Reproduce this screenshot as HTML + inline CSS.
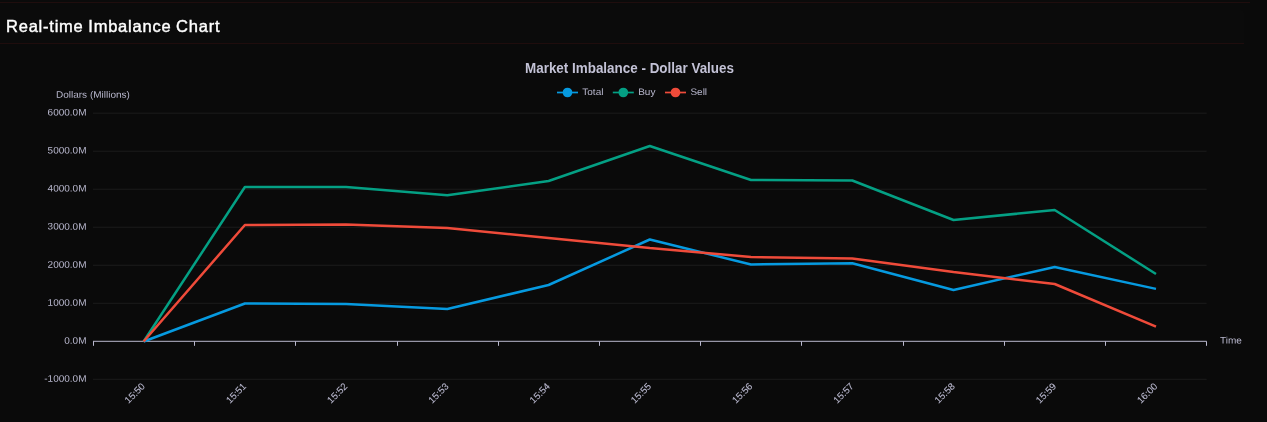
<!DOCTYPE html>
<html lang="en"><head><meta charset="utf-8"><title>Real-time Imbalance Chart</title>
<style>
html,body{margin:0;padding:0;background:#0a0a0a;}
body{width:1267px;height:422px;overflow:hidden;position:relative;font-family:"Liberation Sans",Arial,sans-serif;}
.hdr{position:absolute;left:0;top:0;width:1250px;height:44px;}
.l1{position:absolute;left:0;top:2px;width:1250px;height:1px;background:#1f0d0d;}
.l2{position:absolute;left:0;top:43px;width:1244px;height:1px;background:#1f0d0d;}
.hbox{position:absolute;left:0;top:10px;width:1244px;height:33px;background:#0b0b0b;border-top-right-radius:3px;}
h2{position:absolute;left:6px;top:16px;margin:0;font-size:16.5px;line-height:20px;font-weight:400;color:#fff;letter-spacing:0.77px;word-spacing:-0.6px;-webkit-text-stroke:0.42px #fff;white-space:nowrap;}
svg{position:absolute;left:0;top:0;}
svg text{font-family:"Liberation Sans",Arial,sans-serif;}
</style></head><body>
<div class="l1"></div><div class="hbox"></div><div class="l2"></div>
<h2>Real-time Imbalance Chart</h2>
<svg width="1267" height="422" viewBox="0 0 1267 422">
<line x1="93.0" y1="113.18" x2="1206.6" y2="113.18" stroke="#1c1c1c" stroke-width="1"/>
<line x1="93.0" y1="151.20" x2="1206.6" y2="151.20" stroke="#1c1c1c" stroke-width="1"/>
<line x1="93.0" y1="189.22" x2="1206.6" y2="189.22" stroke="#1c1c1c" stroke-width="1"/>
<line x1="93.0" y1="227.24" x2="1206.6" y2="227.24" stroke="#1c1c1c" stroke-width="1"/>
<line x1="93.0" y1="265.26" x2="1206.6" y2="265.26" stroke="#1c1c1c" stroke-width="1"/>
<line x1="93.0" y1="303.28" x2="1206.6" y2="303.28" stroke="#1c1c1c" stroke-width="1"/>
<line x1="93.0" y1="379.32" x2="1206.6" y2="379.32" stroke="#1c1c1c" stroke-width="1"/>
<line x1="93.0" y1="341.3" x2="1206.6" y2="341.3" stroke="#b9b8ce" stroke-width="1"/>
<line x1="93.5" y1="341.3" x2="93.5" y2="345.8" stroke="#b9b8ce" stroke-width="1"/>
<line x1="194.5" y1="341.3" x2="194.5" y2="345.8" stroke="#b9b8ce" stroke-width="1"/>
<line x1="295.5" y1="341.3" x2="295.5" y2="345.8" stroke="#b9b8ce" stroke-width="1"/>
<line x1="397.5" y1="341.3" x2="397.5" y2="345.8" stroke="#b9b8ce" stroke-width="1"/>
<line x1="498.5" y1="341.3" x2="498.5" y2="345.8" stroke="#b9b8ce" stroke-width="1"/>
<line x1="599.5" y1="341.3" x2="599.5" y2="345.8" stroke="#b9b8ce" stroke-width="1"/>
<line x1="700.5" y1="341.3" x2="700.5" y2="345.8" stroke="#b9b8ce" stroke-width="1"/>
<line x1="801.5" y1="341.3" x2="801.5" y2="345.8" stroke="#b9b8ce" stroke-width="1"/>
<line x1="903.5" y1="341.3" x2="903.5" y2="345.8" stroke="#b9b8ce" stroke-width="1"/>
<line x1="1004.5" y1="341.3" x2="1004.5" y2="345.8" stroke="#b9b8ce" stroke-width="1"/>
<line x1="1105.5" y1="341.3" x2="1105.5" y2="345.8" stroke="#b9b8ce" stroke-width="1"/>
<line x1="1206.5" y1="341.3" x2="1206.5" y2="345.8" stroke="#b9b8ce" stroke-width="1"/>
<text transform="translate(86.5,115.58) rotate(0.03) scale(1.053,1)" text-anchor="end" font-size="9.5" fill="#b9b8ce">6000.0M</text>
<text transform="translate(86.5,153.60) rotate(0.03) scale(1.053,1)" text-anchor="end" font-size="9.5" fill="#b9b8ce">5000.0M</text>
<text transform="translate(86.5,191.62) rotate(0.03) scale(1.053,1)" text-anchor="end" font-size="9.5" fill="#b9b8ce">4000.0M</text>
<text transform="translate(86.5,229.64) rotate(0.03) scale(1.053,1)" text-anchor="end" font-size="9.5" fill="#b9b8ce">3000.0M</text>
<text transform="translate(86.5,267.66) rotate(0.03) scale(1.053,1)" text-anchor="end" font-size="9.5" fill="#b9b8ce">2000.0M</text>
<text transform="translate(86.5,305.68) rotate(0.03) scale(1.053,1)" text-anchor="end" font-size="9.5" fill="#b9b8ce">1000.0M</text>
<text transform="translate(86.5,343.70) rotate(0.03) scale(1.053,1)" text-anchor="end" font-size="9.5" fill="#b9b8ce">0.0M</text>
<text transform="translate(86.5,381.72) rotate(0.03) scale(1.053,1)" text-anchor="end" font-size="9.5" fill="#b9b8ce">-1000.0M</text>
<text transform="translate(56,97.8) rotate(0.03) scale(1.053,1)" font-size="9.5" fill="#b9b8ce">Dollars (Millions)</text>
<text transform="translate(1220,343.6) rotate(0.03) scale(1.053,1)" font-size="9.5" fill="#b9b8ce">Time</text>
<text transform="translate(145.6,387) rotate(-45)" text-anchor="end" font-size="9.6" fill="#b9b8ce" stroke="#b9b8ce" stroke-width="0.1">15:50</text>
<text transform="translate(246.9,387) rotate(-45)" text-anchor="end" font-size="9.6" fill="#b9b8ce" stroke="#b9b8ce" stroke-width="0.1">15:51</text>
<text transform="translate(348.1,387) rotate(-45)" text-anchor="end" font-size="9.6" fill="#b9b8ce" stroke="#b9b8ce" stroke-width="0.1">15:52</text>
<text transform="translate(449.3,387) rotate(-45)" text-anchor="end" font-size="9.6" fill="#b9b8ce" stroke="#b9b8ce" stroke-width="0.1">15:53</text>
<text transform="translate(550.6,387) rotate(-45)" text-anchor="end" font-size="9.6" fill="#b9b8ce" stroke="#b9b8ce" stroke-width="0.1">15:54</text>
<text transform="translate(651.8,387) rotate(-45)" text-anchor="end" font-size="9.6" fill="#b9b8ce" stroke="#b9b8ce" stroke-width="0.1">15:55</text>
<text transform="translate(753.0,387) rotate(-45)" text-anchor="end" font-size="9.6" fill="#b9b8ce" stroke="#b9b8ce" stroke-width="0.1">15:56</text>
<text transform="translate(854.3,387) rotate(-45)" text-anchor="end" font-size="9.6" fill="#b9b8ce" stroke="#b9b8ce" stroke-width="0.1">15:57</text>
<text transform="translate(955.5,387) rotate(-45)" text-anchor="end" font-size="9.6" fill="#b9b8ce" stroke="#b9b8ce" stroke-width="0.1">15:58</text>
<text transform="translate(1056.7,387) rotate(-45)" text-anchor="end" font-size="9.6" fill="#b9b8ce" stroke="#b9b8ce" stroke-width="0.1">15:59</text>
<text transform="translate(1158.0,387) rotate(-45)" text-anchor="end" font-size="9.6" fill="#b9b8ce" stroke="#b9b8ce" stroke-width="0.1">16:00</text>
<text x="629.5" y="72.75" text-anchor="middle" font-size="14" font-weight="bold" textLength="209" lengthAdjust="spacingAndGlyphs" fill="#c3c2d6">Market Imbalance - Dollar Values</text>
<line x1="557" y1="92.5" x2="578" y2="92.5" stroke="#069ae0" stroke-width="1.7"/><circle cx="567.5" cy="92.5" r="4.85" fill="#069ae0"/><text transform="translate(582.3,95) rotate(0.03) scale(1.053,1)" font-size="9.5" fill="#b9b8ce">Total</text>
<line x1="612.8" y1="92.5" x2="633.8" y2="92.5" stroke="#04a084" stroke-width="1.7"/><circle cx="623.3" cy="92.5" r="4.85" fill="#04a084"/><text transform="translate(638.2,95) rotate(0.03) scale(1.053,1)" font-size="9.5" fill="#b9b8ce">Buy</text>
<line x1="665" y1="92.5" x2="686" y2="92.5" stroke="#ef4b3a" stroke-width="1.7"/><circle cx="675.5" cy="92.5" r="4.85" fill="#ef4b3a"/><text transform="translate(690.4,95) rotate(0.03) scale(1.053,1)" font-size="9.5" fill="#b9b8ce">Sell</text>
<polyline points="143.6,341.5 244.9,303.5 346.1,304.0 447.3,309.0 548.6,285.0 649.8,239.5 751.0,264.5 852.3,263.3 953.5,290.0 1054.7,267.0 1156.0,288.9" fill="none" stroke="#069ae0" stroke-width="2.5" stroke-linejoin="bevel" stroke-linecap="butt"/>
<polyline points="143.6,341.5 244.9,187.0 346.1,187.0 447.3,195.3 548.6,181.0 649.8,146.0 751.0,180.0 852.3,180.5 953.5,220.0 1054.7,210.0 1156.0,274.0" fill="none" stroke="#04a084" stroke-width="2.5" stroke-linejoin="bevel" stroke-linecap="butt"/>
<polyline points="143.6,341.5 244.9,225.0 346.1,224.5 447.3,228.0 548.6,238.0 649.8,248.0 751.0,257.0 852.3,258.5 953.5,272.0 1054.7,284.0 1156.0,326.6" fill="none" stroke="#ef4b3a" stroke-width="2.5" stroke-linejoin="bevel" stroke-linecap="butt"/>
</svg></body></html>
